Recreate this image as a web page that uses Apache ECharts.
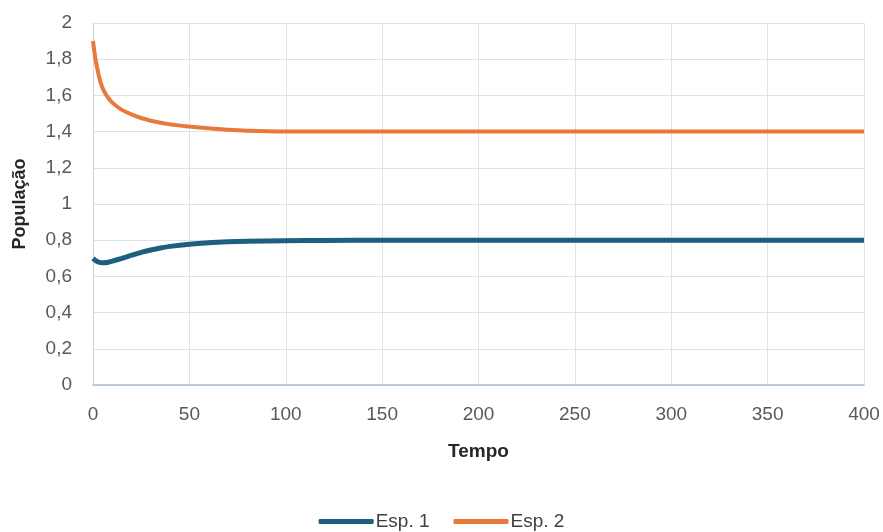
<!DOCTYPE html>
<html>
<head>
<meta charset="utf-8">
<script src="https://cdn.jsdelivr.net/npm/echarts@6/dist/echarts.min.js"></script>
<style>
  html, body { margin: 0; padding: 0; background: #fff; }
  #chart { width: 883px; height: 532px; }
</style>
</head>
<body>
<div id="chart"></div>
<script>
// Tempo (x) e população
const esp1Tempo = [0, 2, 4, 6, 8, 10, 15, 20, 25, 30, 35, 40, 50, 60, 70, 80, 100, 120, 150, 200, 300, 400];
const esp1Pop   = [0.70, 0.683, 0.676, 0.675, 0.678, 0.684, 0.70, 0.717, 0.733, 0.746, 0.757, 0.766, 0.778, 0.786, 0.791, 0.794, 0.797, 0.799, 0.80, 0.80, 0.80, 0.80];

const esp2Tempo = [0, 1, 2, 3, 4, 5, 7, 10, 15, 20, 25, 30, 40, 50, 60, 70, 80, 100, 150, 200, 300, 400];
const esp2Pop   = [1.90, 1.82, 1.76, 1.71, 1.67, 1.64, 1.60, 1.56, 1.52, 1.495, 1.475, 1.46, 1.44, 1.428, 1.418, 1.41, 1.405, 1.401, 1.40, 1.40, 1.40, 1.40];

const serieNomes = ['Esp. 1', 'Esp. 2'];

function pares(xs, ys) {
    return xs.map((x, i) => [x, ys[i]]);
}

const chart = echarts.init(document.getElementById('chart'));
const fonte = 'Liberation Sans';

chart.setOption({
    animation: false,
    grid: { left: 93, right: 19, top: 23, bottom: 147 },
    legend: {
        top: 507,
        left: 'center',
        data: serieNomes,
        icon: 'roundRect',
        itemWidth: 55,
        itemHeight: 5,
        itemGap: 24,
        textStyle: { fontFamily: fonte, fontSize: 19, color: '#404040', padding: [0, 0, 0, -3] }
    },
    xAxis: {
        type: 'value',
        min: 0, max: 400, interval: 50,
        name: 'Tempo',
        nameLocation: 'middle',
        nameGap: 57,
        nameTextStyle: { fontFamily: fonte, fontSize: 19, fontWeight: 'bold', color: '#262626' },
        axisLine: { lineStyle: { color: '#a9bccc', width: 1.5 } },
        axisTick: { show: false },
        axisLabel: { fontFamily: fonte, fontSize: 19, color: '#595959', margin: 20 },
        splitLine: { show: true, lineStyle: { color: '#dbe3ec' } }
    },
    yAxis: {
        type: 'value',
        min: 0, max: 2, interval: 0.2,
        name: 'População',
        nameLocation: 'middle',
        nameGap: 64,
        nameTextStyle: { fontFamily: fonte, fontSize: 18, fontWeight: 'bold', color: '#262626' },
        axisLine: { show: true, lineStyle: { color: '#c9d5e0' } },
        axisTick: { show: false },
        axisLabel: {
            fontFamily: fonte, fontSize: 19, color: '#595959', margin: 21,
            formatter: v => String(Math.round(v * 10) / 10).replace('.', ',')
        },
        splitLine: { show: true, lineStyle: { color: '#dbe3ec' } }
    },
    series: [
        {
            name: serieNomes[0], type: 'line', smooth: 0.3, showSymbol: false,
            data: pares(esp1Tempo, esp1Pop),
            lineStyle: { color: '#1c5f7e', width: 5 },
            itemStyle: { color: '#1c5f7e' }
        },
        {
            name: serieNomes[1], type: 'line', smooth: 0.3, showSymbol: false,
            data: pares(esp2Tempo, esp2Pop),
            lineStyle: { color: '#e8793a', width: 4 },
            itemStyle: { color: '#e8793a' }
        }
    ]
});
</script>
</body>
</html>
